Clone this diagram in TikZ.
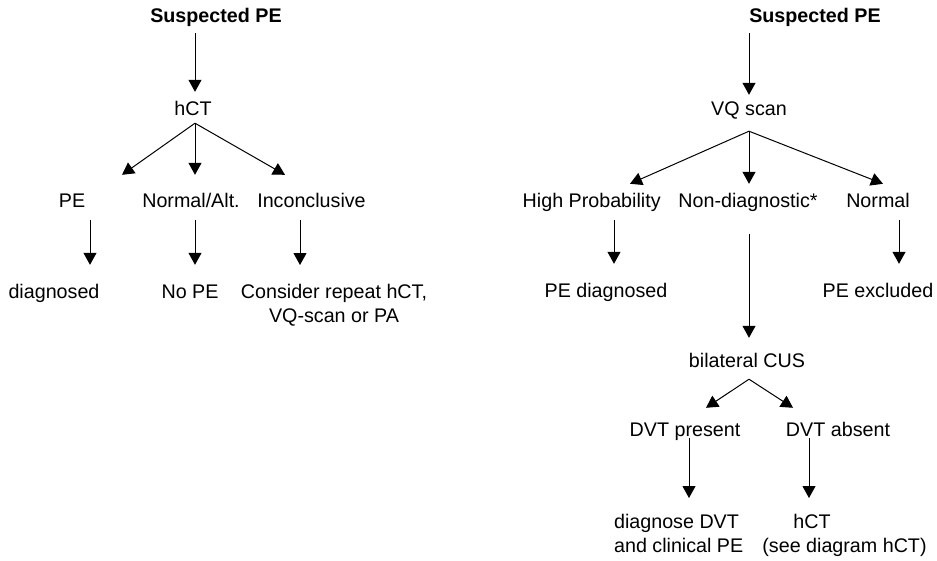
\documentclass[tikz,border=0pt]{standalone}
\usepackage{fontspec}
\setmainfont{Liberation Sans}
\usetikzlibrary{arrows.meta}
\begin{document}
\begin{tikzpicture}[x=1pt,y=-1pt,
  lbl/.style={anchor=base,inner sep=0pt,text height=14pt,text depth=5pt,font=\fontsize{19.7}{23.5}\selectfont},
  ml/.style={anchor=base,inner sep=0pt,font=\fontsize{19.7}{24}\selectfont},
  ttl/.style={lbl,font=\fontsize{19.7}{23.5}\selectfont\bfseries},
  arr/.style={draw=black,line width=1pt,-{Triangle[width=13pt,length=12pt]}}]
\useasboundingbox[fill=white] (0,0) rectangle (937,560);
% left diagram
\node[ttl] (s1) at (216,22) {Suspected PE};
\node[lbl] (h1) at (193,115) {hCT};
\node[lbl] (pe) at (72,207) {PE};
\node[lbl] (na) at (191,207) {Normal/Alt.};
\node[lbl] (inc) at (311.5,207) {Inconclusive};
\node[lbl] (dg) at (54,298) {diagnosed};
\node[lbl] (nope) at (190,298) {No PE};
\node[ml,align=center] (cons) at (334,322) {Consider repeat hCT,\\VQ-scan or PA};
\draw[arr] ([xshift=-21pt,yshift=-6pt]s1.south) -- ([xshift=2pt,yshift=9pt]h1.north);
\draw[arr] ([xshift=2pt,yshift=-3pt]h1.south) -- ([xshift=50pt,yshift=18pt]pe.north);
\draw[arr] ([xshift=2pt,yshift=-3pt]h1.south) -- ([xshift=4pt,yshift=18pt]na.north);
\draw[arr] ([xshift=2pt,yshift=-3pt]h1.south) -- ([xshift=-26.5pt,yshift=18pt]inc.north);
\draw[arr] ([xshift=18pt,yshift=-8pt]pe.south) -- ([xshift=36pt,yshift=19pt]dg.north);
\draw[arr] ([xshift=4pt,yshift=-8pt]na.south) -- ([xshift=5pt,yshift=19pt]nope.north);
\draw[arr] ([xshift=-11.5pt,yshift=-8pt]inc.south) -- ([xshift=-34pt,yshift=57pt]cons.base);
% right diagram
\node[ttl] (s2) at (815,22) {Suspected PE};
\node[lbl] (vq) at (749,115) {VQ scan};
\node[lbl] (hp) at (591.7,207) {High Probability};
\node[lbl] (nd) at (748,207) {Non-diagnostic*};
\node[lbl] (nm) at (878,207) {Normal};
\node[lbl] (ped) at (606,297) {PE diagnosed};
\node[lbl] (pex) at (878,297) {PE excluded};
\node[lbl] (cus) at (747,367) {bilateral CUS};
\node[lbl] (dp) at (685,436) {DVT present};
\node[lbl] (da) at (838,436) {DVT absent};
\node[ml,align=left] (ddvt) at (678.7,552) {diagnose DVT\\and clinical PE};
\node[ml,align=left] (hct2) at (844.5,552) {\hspace*{31pt}hCT\\(see diagram hCT)};
\draw[arr] ([xshift=-66pt,yshift=-6pt]s2.south) -- ([yshift=6pt]vq.north);
\draw[arr] ([yshift=-11pt]vq.south) -- ([xshift=38.3pt,yshift=9pt]hp.north);
\draw[arr] ([yshift=-11pt]vq.south) -- ([xshift=1pt,yshift=9pt]nd.north);
\draw[arr] ([yshift=-11pt]vq.south) -- ([xshift=5pt,yshift=9pt]nm.north);
\draw[arr] ([xshift=22.3pt,yshift=-8pt]hp.south) -- ([xshift=8pt,yshift=19pt]ped.north);
\draw[arr] ([xshift=21pt,yshift=-8pt]nm.south) -- ([xshift=21pt,yshift=19pt]pex.north);
\draw[arr] ([xshift=1pt,yshift=-22pt]nd.south) -- ([xshift=2pt,yshift=15pt]cus.north);
\draw[arr] ([xshift=2pt,yshift=-7pt]cus.south) -- ([xshift=21pt,yshift=14pt]dp.north);
\draw[arr] ([xshift=2pt,yshift=-7pt]cus.south) -- ([xshift=-45pt,yshift=14pt]da.north);
\draw[arr] ([xshift=4pt,yshift=3pt]dp.south) -- ([xshift=10.3pt,yshift=54pt]ddvt.base);
\draw[arr] ([xshift=-29pt,yshift=3pt]da.south) -- ([xshift=-35.5pt,yshift=54pt]hct2.base);
\end{tikzpicture}
\end{document}
